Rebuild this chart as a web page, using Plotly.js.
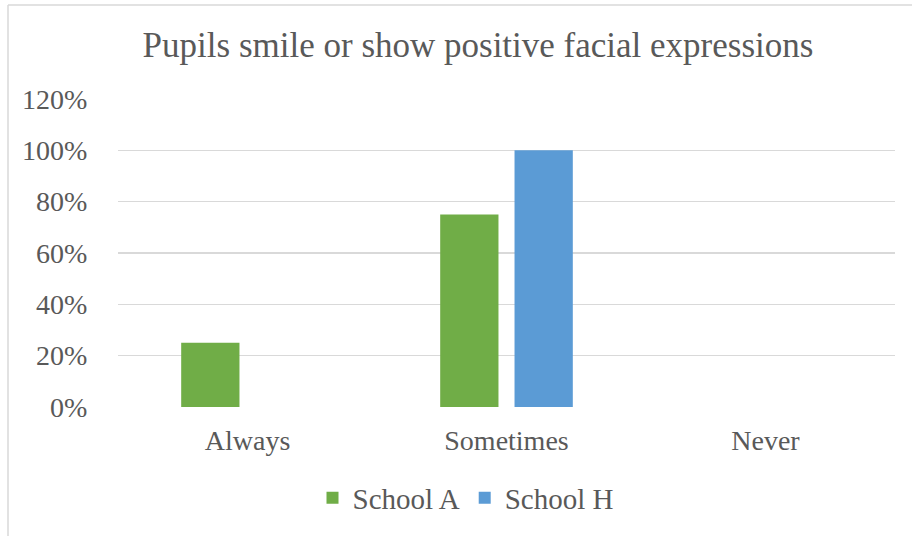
<!DOCTYPE html>
<html>
<head>
<meta charset="utf-8">
<script src="https://cdn.plot.ly/plotly-3.0.1.min.js"></script>
<style>
html,body{margin:0;padding:0;background:#fff;}
#chart{width:912px;height:536px;}
</style>
</head>
<body>
<div id="chart"></div>
<script>
const categories = ["Always", "Sometimes", "Never"];
const schoolA = [0.25, 0.75, 0];
const schoolH = [0, 1.00, 0];
const seriesNames = ["School A", "School H"];
const yTicks = [0, 0.2, 0.4, 0.6, 0.8, 1.0, 1.2];
const yTickLabels = ["0%", "20%", "40%", "60%", "80%", "100%", "120%"];

const W = 912, H = 536, L = 118, R = 17, T = 99, B = 129;
const pw = W - L - R, ph = H - T - B;
const font = "Liberation Serif";
const txt = "#595959";

const data = [
  {type: "bar", name: seriesNames[0], x: categories, y: schoolA, marker: {color: "#70AD47"}, hoverinfo: "none"},
  {type: "bar", name: seriesNames[1], x: categories, y: schoolH, marker: {color: "#5B9BD5"}, hoverinfo: "none"}
];

const layout = {
  width: W, height: H,
  margin: {l: L, r: R, t: T, b: B, pad: 0},
  paper_bgcolor: "#fff", plot_bgcolor: "#fff",
  font: {family: font, color: txt, size: 28},
  title: {text: "Pupils smile or show positive facial expressions", font: {family: font, size: 35, color: txt},
          x: 478 / W, xanchor: "center", xref: "container", y: 1 - 45 / H, yanchor: "middle", yref: "container"},
  barmode: "group", bargap: 0.426, bargroupgap: 0.216,
  xaxis: {type: "category", showgrid: false, zeroline: false, showline: false,
          ticks: "outside", ticklen: 8, tickcolor: "rgba(0,0,0,0)",
          tickfont: {family: font, size: 28, color: txt}},
  yaxis: {range: [0, 1.2], tickvals: yTicks, ticktext: yTickLabels, showgrid: true, gridcolor: "#D9D9D9", gridwidth: 1.5,
          zeroline: false, showline: false, ticks: "outside", ticklen: 24, tickcolor: "rgba(0,0,0,0)",
          tickfont: {family: font, size: 28, color: txt}},
  showlegend: true,
  legend: {orientation: "h", x: (466 - L) / pw, xanchor: "center", y: -(498 - (T + ph)) / ph, yanchor: "middle",
           font: {family: font, size: 29, color: txt}, itemwidth: 30, tracegroupgap: 0},
  shapes: [
    {type: "line", xref: "paper", yref: "paper", x0: (8 - L) / pw, x1: (920 - L) / pw, y0: 1 + (T - 5) / ph, y1: 1 + (T - 5) / ph,
     line: {color: "#D9D9D9", width: 1.5}},
    {type: "line", xref: "paper", yref: "paper", x0: (8 - L) / pw, x1: (8 - L) / pw, y0: 1 + (T - 5) / ph, y1: -(H + 10 - T - ph) / ph,
     line: {color: "#D9D9D9", width: 1.5}}
  ]
};

Plotly.newPlot("chart", data, layout, {staticPlot: true, displayModeBar: false});
</script>
</body>
</html>
